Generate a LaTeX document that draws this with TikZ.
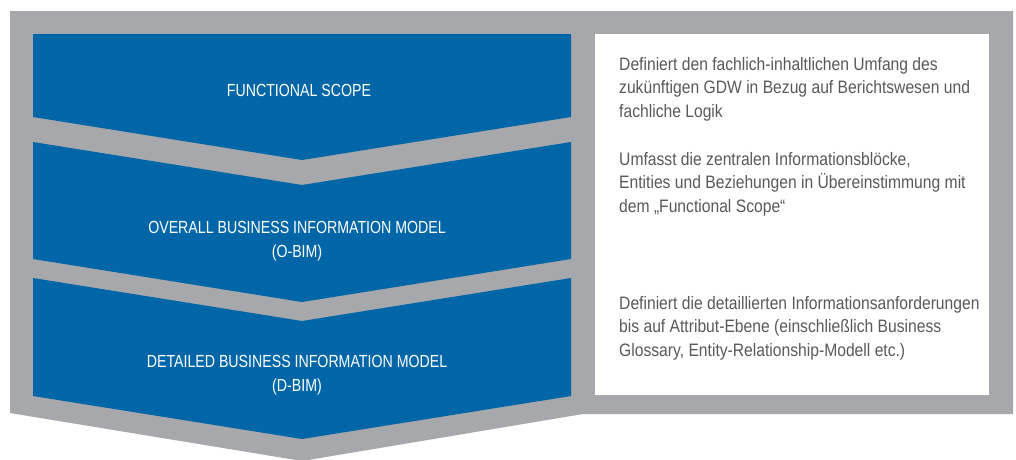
\documentclass[tikz,border=0pt]{standalone}
\usepackage{fontspec}
\setmainfont{Liberation Sans}
\newfontfamily\capsfont{Liberation Sans}[FakeStretch=0.81]
\newfontfamily\bodyfont{Liberation Sans}[FakeStretch=0.87]
\definecolor{frame}{HTML}{A7A8AB}
\definecolor{stage}{HTML}{0066A8}
\definecolor{note}{HTML}{58595B}
\tikzset{
  stagebox/.style={fill=stage, draw=none},
  stagelabel/.style={text=white, align=center, inner sep=0pt,
    font=\capsfont\fontsize{17.5}{24}\selectfont},
  notetext/.style={text=note, align=left, anchor=west, inner sep=0pt,
    font=\bodyfont\fontsize{18}{23.5}\selectfont},
}
\begin{document}
\begin{tikzpicture}[x=1pt,y=-1pt]
  \useasboundingbox (0,0) rectangle (1016,459);
  % grey frame with arrow-shaped bottom
  \fill[frame] (10,11) -- (1013,11) -- (1013,414) -- (583,414)
    -- (302,461) -- (10,413) -- cycle;
  % description panel
  \fill[white] (595,34) rectangle (989,395);
  % the three stages
  \fill[stagebox] (33,34) -- (571,34) -- (571,117) -- (302,160)
    -- (33,117) -- cycle;
  \fill[stagebox] (33,142) -- (302,185) -- (571,142) -- (571,259)
    -- (302,302) -- (33,259) -- cycle;
  \fill[stagebox] (33,278) -- (302,321) -- (571,278) -- (571,396)
    -- (302,439) -- (33,396) -- cycle;
  % stage titles
  \node[stagelabel] (fs) at (299,90) {FUNCTIONAL SCOPE};
  \node[stagelabel] (obim) at (297,241) {OVERALL BUSINESS INFORMATION MODEL\\(O-BIM)};
  \node[stagelabel] (dbim) at (297,375) {DETAILED BUSINESS INFORMATION MODEL\\(D-BIM)};
  % descriptions
  \node[notetext] (fsnote) at (619,89) {Definiert den fachlich-inhaltlichen Umfang des\\zukünftigen GDW in Bezug auf Berichtswesen und\\fachliche Logik};
  \node[notetext] (obimnote) at (619,184) {Umfasst die zentralen Informationsblöcke,\\Entities und Beziehungen in Übereinstimmung mit\\dem „Functional Scope“};
  \node[notetext] (dbimnote) at (619,328) {Definiert die detaillierten Informationsanforderungen\\bis auf Attribut-Ebene (einschließlich Business\\Glossary, Entity-Relationship-Modell etc.)};
\end{tikzpicture}
\end{document}
